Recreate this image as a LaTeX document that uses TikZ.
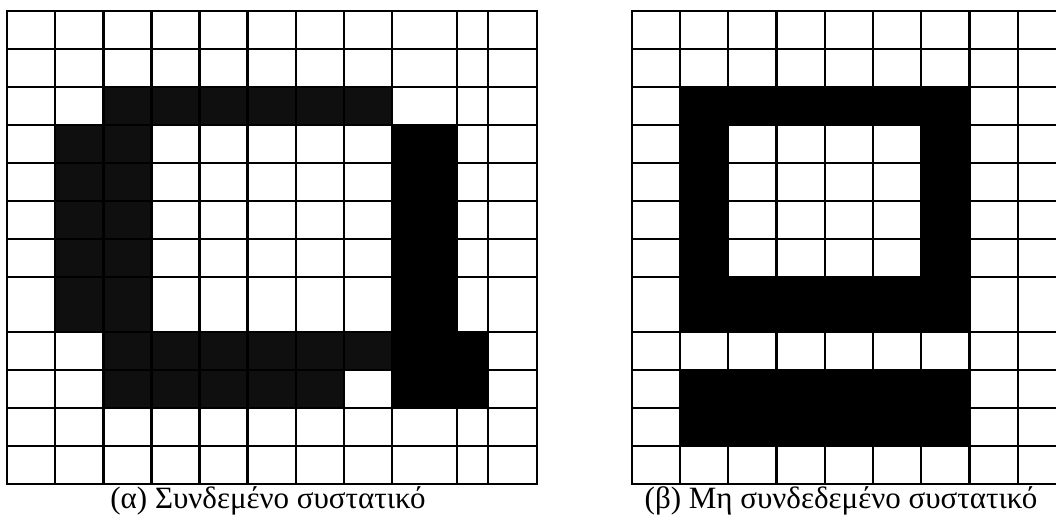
\documentclass[tikz,border=0pt]{standalone}
\usepackage{fontspec}
\setmainfont{Liberation Serif}
\usepackage{xcolor}
\usepackage{tikz}

\definecolor{darkcell}{HTML}{0F0F0F}

% column and row boundaries of the two pixel grids
\def\colsA{{7.3,55.35,103.4,151.45,199.5,247.55,295.6,343.65,391.7,456.7,488.3,536.7}}
\def\colsB{{631.7,679.95,728.2,776.45,824.7,872.95,921.2,969.45,1017.7,1066}}
\def\rowsY{{10.7,48.7,86.7,124.7,162.7,200.7,238.7,276.7,331.7,369.7,407.7,445.7,483.7}}

% \fillcells{cols}{first col}{last col}{first row}{last row}{colour}
\newcommand{\fillcells}[6]{%
  \pgfmathsetmacro{\cxa}{#1[#2]}%
  \pgfmathsetmacro{\cxb}{#1[#3+1]}%
  \pgfmathsetmacro{\cya}{\rowsY[#4]}%
  \pgfmathsetmacro{\cyb}{\rowsY[#5+1]}%
  \fill[#6] (\cxa,\cya) rectangle (\cxb,\cyb);}

\tikzset{
  gridline/.style={line width=2.2pt, line cap=rect},
  captext/.style={font=\fontsize{31}{36}\selectfont, inner sep=0pt, anchor=base}
}

\begin{document}
\begin{tikzpicture}[x=1pt, y=-1pt]
\path[use as bounding box] (0,0) rectangle (1056,519);
\clip (0,0) rectangle (1056,519);

% (a) connected component
\fillcells{\colsA}{2}{7}{2}{2}{darkcell}
\fillcells{\colsA}{1}{2}{3}{7}{darkcell}
\fillcells{\colsA}{2}{7}{8}{8}{darkcell}
\fillcells{\colsA}{2}{6}{9}{9}{darkcell}
\fillcells{\colsA}{8}{8}{3}{9}{black}
\fillcells{\colsA}{9}{9}{8}{9}{black}

% (b) not connected component
\fillcells{\colsB}{1}{6}{2}{2}{black}
\fillcells{\colsB}{1}{1}{3}{6}{black}
\fillcells{\colsB}{6}{6}{3}{6}{black}
\fillcells{\colsB}{1}{6}{7}{7}{black}
\fillcells{\colsB}{1}{6}{9}{10}{black}

% grid lines
\foreach \y in {10.7,48.7,86.7,124.7,162.7,200.7,238.7,276.7,331.7,369.7,407.7,445.7,483.7}{
  \draw[gridline] (7.3,\y) -- (536.7,\y);
  \draw[gridline] (631.7,\y) -- (1066,\y);
}
\foreach \x in {7.3,55.35,103.4,151.45,199.5,247.55,295.6,343.65,391.7,456.7,488.3,536.7}
  \draw[gridline] (\x,10.7) -- (\x,483.7);
\foreach \x in {631.7,679.95,728.2,776.45,824.7,872.95,921.2,969.45,1017.7}
  \draw[gridline] (\x,10.7) -- (\x,483.7);

\node[captext] (capA) at (268,508) {(α) Συνδεμένο συστατικό};
\node[captext] (capB) at (841,508) {(β) Μη συνδεδεμένο συστατικό};
\end{tikzpicture}
\end{document}
